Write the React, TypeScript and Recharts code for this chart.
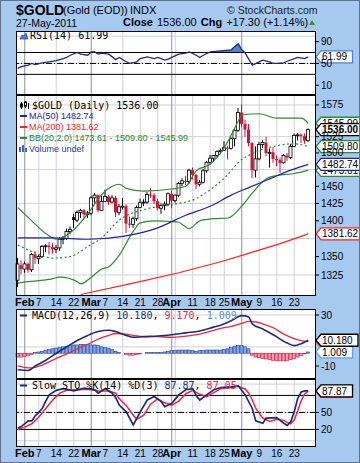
import { Area, Bar, CartesianGrid, ComposedChart, Line, ReferenceLine, XAxis, YAxis } from "recharts";

const FONT = "Arial, 'Liberation Sans', sans-serif";
const MONO = "'DejaVu Sans Mono', monospace";
const BG = "#a6c9f0";
const NAVY = "#1b2d7a";
const MA_BLUE = "#23239b";
const RED = "#f2263d";
const CANDLE_RED = "#d6123a";
const GREEN = "#2e8a2e";
const GRID = "#cfd0da";
const MONTH_GRID = "#8f8f9f";

// trading days, Jan 28 - May 27 2011
const janDays = [28, 31];
const febDays = [1, 2, 3, 4, 7, 8, 9, 10, 11, 14, 15, 16, 17, 18, 22, 23, 24, 25, 28];
const marDays = [1, 2, 3, 4, 7, 8, 9, 10, 11, 14, 15, 16, 17, 18, 21, 22, 23, 24, 25, 28, 29, 30, 31];
const aprDays = [1, 4, 5, 6, 7, 8, 11, 12, 13, 14, 15, 18, 19, 20, 21, 25, 26, 27, 28, 29];
const mayDays = [2, 3, 4, 5, 6, 9, 10, 11, 12, 13, 16, 17, 18, 19, 20, 23, 24, 25, 26, 27];

const days = [
  ...janDays.map((d) => `Jan ${d}`),
  ...febDays.map((d) => `Feb ${d}`),
  ...marDays.map((d) => `Mar ${d}`),
  ...aprDays.map((d) => `Apr ${d}`),
  ...mayDays.map((d) => `May ${d}`),
];

const monthTicks = ["Feb 1", "Mar 1", "Apr 1", "May 2"];
const monthNames = ["Feb", "Mar", "Apr", "May"];
const weekTicks = ["Feb 7", "Feb 14", "Feb 22", "Mar 7", "Mar 14", "Mar 21", "Mar 28", "Apr 11", "Apr 18", "Apr 25", "May 9", "May 16", "May 23"];
const weekGrid = [...weekTicks, "Apr 4"];
const dateTicks = days.filter((d) => monthTicks.includes(d) || weekTicks.includes(d));

// daily candles
const opens = [
  1318, 1338, 1333, 1340, 1332, 1353, 1347, 1350, 1364, 1365, 1363, 1360, 1362, 1374, 1375, 1385, 1405, 1401, 1412, 1415, 1409,
  1411, 1433, 1437, 1415, 1428, 1435, 1427, 1433, 1412, 1420, 1421, 1396, 1395, 1403, 1419, 1426, 1427, 1438, 1437, 1428, 1418, 1422, 1424,
  1439, 1429, 1437, 1454, 1458, 1457, 1474, 1467, 1453, 1456, 1473, 1486, 1492, 1496, 1502, 1504, 1508, 1507, 1522, 1535,
  1563, 1545, 1536, 1515, 1474, 1491, 1513, 1516, 1500, 1501, 1491, 1489, 1485, 1496, 1493, 1510, 1527, 1528, 1526, 1519,
];
const highs = [
  1348, 1345, 1343, 1342, 1355, 1358, 1352, 1366, 1367, 1370, 1369, 1366, 1377, 1378, 1389, 1392, 1410, 1415, 1417, 1417, 1414,
  1436, 1440, 1438, 1436, 1445, 1437, 1437, 1436, 1424, 1433, 1424, 1406, 1406, 1422, 1432, 1431, 1442, 1447, 1440, 1432, 1425, 1428, 1441,
  1443, 1438, 1456, 1462, 1465, 1476, 1478, 1468, 1459, 1476, 1488, 1497, 1497, 1504, 1507, 1518, 1511, 1524, 1538, 1570,
  1576, 1551, 1545, 1517, 1510, 1517, 1520, 1525, 1507, 1509, 1496, 1493, 1498, 1500, 1514, 1530, 1531, 1530, 1530, 1538,
];
const lows = [
  1309, 1326, 1328, 1328, 1329, 1340, 1340, 1348, 1356, 1353, 1354, 1355, 1358, 1367, 1373, 1381, 1390, 1398, 1404, 1402, 1404,
  1408, 1426, 1412, 1414, 1427, 1423, 1425, 1405, 1408, 1416, 1383, 1390, 1390, 1400, 1418, 1421, 1424, 1433, 1424, 1415, 1410, 1415, 1421,
  1418, 1426, 1434, 1450, 1452, 1453, 1460, 1446, 1450, 1454, 1470, 1482, 1487, 1493, 1498, 1503, 1490, 1505, 1510, 1532,
  1540, 1525, 1510, 1462, 1463, 1489, 1508, 1495, 1478, 1485, 1480, 1470, 1484, 1488, 1491, 1509, 1519, 1515, 1514, 1517,
];
const closes = [
  1340, 1333, 1340, 1332, 1353, 1348, 1350, 1364, 1365, 1363, 1360, 1362, 1374, 1375, 1385, 1388, 1401, 1412, 1415, 1409, 1411,
  1433, 1437, 1415, 1428, 1435, 1427, 1433, 1412, 1420, 1421, 1396, 1395, 1403, 1419, 1426, 1427, 1438, 1437, 1428, 1418, 1422, 1424, 1439,
  1429, 1437, 1454, 1458, 1457, 1474, 1467, 1453, 1456, 1473, 1486, 1492, 1496, 1502, 1504, 1508, 1507, 1522, 1535, 1563,
  1545, 1536, 1515, 1474, 1491, 1513, 1516, 1500, 1501, 1491, 1489, 1485, 1496, 1493, 1510, 1527, 1528, 1526, 1518.7, 1536,
];

// overlays as [day index, value]
const ma50Pts: [number, number][] = [[0, 1376], [10, 1376], [20, 1374], [30, 1378], [40, 1390], [48, 1408], [55, 1421], [61, 1437], [66, 1448], [72, 1461], [78, 1474], [83, 1482.74]];
const ma200Pts: [number, number][] = [[18, 1299], [33, 1314], [46, 1328], [58, 1343], [65, 1353], [75, 1368], [83, 1381.62]];
const bbUpperPts: [number, number][] = [[0, 1419], [4, 1400], [8, 1382], [11, 1374], [15, 1383], [20, 1410], [24, 1438], [27, 1450], [29, 1453], [31, 1447], [36, 1443], [44, 1446], [48, 1450], [51, 1473], [55, 1483], [59, 1508], [63, 1549], [64, 1559], [69, 1561], [74, 1554], [81, 1554], [83, 1545.99]];
const bbMidPts: [number, number][] = [[0, 1366], [5, 1355], [10, 1348], [15, 1350], [20, 1364], [24, 1376], [29, 1401], [36, 1416], [45, 1424], [51, 1432], [55, 1445], [59, 1462], [64, 1490], [67, 1499], [74, 1511], [79, 1514], [83, 1509.8]];
const bbLowerPts: [number, number][] = [[0, 1314], [3, 1316], [9, 1319], [12, 1322], [17, 1316], [18, 1313], [21, 1322], [24, 1333], [26, 1336], [29, 1352], [33, 1385], [35, 1397], [39, 1400], [44, 1399], [46, 1398], [49, 1389], [52, 1400], [56, 1403], [60, 1404], [64, 1421], [67, 1440], [71, 1461], [74, 1466], [79, 1469], [83, 1473.61]];

const rsiPts: [number, number][] = [[0, 41], [1, 44], [3, 47], [4, 50], [5, 48], [7, 51], [9, 53], [11, 55], [13, 59], [14, 61], [15, 65], [17, 70], [18, 67], [20, 65], [21, 71], [22, 71], [23, 67], [24, 69], [26, 67], [28, 57], [29, 61], [31, 53], [32, 50], [34, 53], [35, 59], [37, 62], [39, 59], [40, 61], [42, 56], [43, 58], [44, 61], [46, 67], [48, 69], [49, 71], [51, 65], [52, 61], [53, 65], [55, 71], [58, 73], [61, 75], [62, 81], [63, 86], [64, 75], [65, 69], [67, 47], [69, 53], [70, 56], [72, 53], [73, 50], [74, 50], [76, 51], [77, 54], [79, 59], [80, 61], [82, 59], [83, 61.99]];

const macdPts: [number, number][] = [[0, -13], [3, -13.5], [5, -10], [8, -5.5], [11, 0], [14, 5], [17, 10], [20, 14], [23, 17], [26, 18], [28, 17], [31, 14], [33, 12.5], [36, 13], [40, 13.5], [44, 14.5], [48, 16], [52, 17.5], [56, 20.5], [58, 22], [61, 25.5], [64, 29.5], [66, 28.5], [67, 23], [70, 19], [73, 14.5], [77, 8], [79, 6], [81, 7.5], [83, 10.18]];
const signalPts: [number, number][] = [[0, -10], [3, -11.5], [5, -11], [8, -8], [11, -4], [14, -0.5], [17, 3.5], [20, 7], [23, 11], [26, 14], [28, 15.5], [31, 15], [33, 14], [36, 13], [40, 13], [44, 12.5], [48, 13.5], [52, 15], [56, 18], [58, 19.5], [61, 21], [64, 23.5], [66, 25], [68, 24.5], [70, 23], [73, 20], [76, 15], [80, 10.5], [83, 9.17]];
const histValues = [
  -3, -3, -2.5, -2, -1, 0.5, 1, 1.5, 2.5, 3, 3.5, 4, 4.5, 5, 5.5, 6, 6.5, 6.5, 7, 7, 7,
  6.5, 6.5, 6, 5, 4.5, 4, 3, 1.5, 0.5, 0, -1, -1.5, -1.5, -1, -0.5, 0, 0.5, 0.5, 0.5, 0.5, 0.5, 1, 1.5,
  2, 2, 2.5, 2.5, 2.5, 2.5, 2, 1.5, 2, 2, 2.5, 2.5, 2.5, 2.5, 2.5, 3, 3.5, 4.5, 5.5, 6,
  6, 5, 3.5, -1.5, -3, -3.5, -4, -4.5, -5, -5.5, -6, -6, -6, -6, -5, -4.5, -3, -2, -0.5, 1.009,
];

const pctKPts: [number, number][] = [[0, 22], [1, 25], [3, 35], [4, 35], [5, 44], [7, 57], [8, 70], [9, 81], [11, 89], [13, 92], [16, 88], [19, 93], [22, 90], [23, 84], [25, 92], [27, 84], [28, 76], [29, 63], [31, 51], [33, 28], [35, 51], [37, 72], [39, 78], [41, 69], [42, 60], [44, 66], [46, 81], [48, 90], [50, 92], [51, 80], [52, 72], [54, 81], [56, 90], [58, 94], [61, 95], [63, 97], [65, 81], [67, 57], [68, 35], [70, 31], [71, 40], [74, 41], [76, 31], [77, 27], [78, 34], [79, 51], [80, 75], [81, 86], [82, 88], [83, 87.87]];
const pctDPts: [number, number][] = [[0, 20], [2, 24], [4, 30], [6, 42], [8, 57], [10, 72], [12, 84], [14, 89], [17, 90], [20, 91], [23, 88], [26, 88], [28, 84], [29, 74], [31, 62], [33, 45], [34, 38], [36, 45], [38, 65], [40, 74], [42, 67], [44, 63], [46, 70], [48, 83], [50, 89], [52, 82], [54, 78], [56, 85], [58, 92], [61, 94], [63, 96], [65, 91], [66, 84], [67, 72], [68, 57], [70, 40], [72, 34], [74, 38], [76, 36], [77, 32], [78, 30], [79, 37], [80, 53], [81, 71], [82, 83], [83, 87.05]];

// axis ticks (values hidden behind the last-value tags are left out)
const priceGrid = [1325, 1350, 1375, 1400, 1425, 1450, 1475, 1500, 1525, 1550, 1575];
const priceTicks = [1325, 1350, 1400, 1425, 1450, 1500, 1525, 1575];
const rsiTicks = [10, 30, 50, 70, 90];
const macdTicks = [-10, 20, 30];
const stoTicks = [20, 50];

const pick = (pts: [number, number][], i: number) => {
  const p = pts.find((q) => q[0] === i);
  return p ? p[1] : null;
};
const last = (pts: [number, number][]) => pts[pts.length - 1][1];

const priceRows = days.map((day, i) => ({
  day,
  open: opens[i],
  high: highs[i],
  low: lows[i],
  close: closes[i],
  prev: i > 0 ? closes[i - 1] : opens[i],
  range: [lows[i], highs[i]],
  ma50: pick(ma50Pts, i),
  ma200: pick(ma200Pts, i),
  bbUpper: pick(bbUpperPts, i),
  bbMid: pick(bbMidPts, i),
  bbLower: pick(bbLowerPts, i),
}));

const rsiRows = days.map((day, i) => {
  const v = pick(rsiPts, i);
  return { day, rsi: v, rsiFill: v == null ? null : [70, Math.max(70, v)] };
});

const macdRows = days.map((day, i) => ({
  day,
  macd: pick(macdPts, i),
  signal: pick(signalPts, i),
  hist: histValues[i],
}));

const stoRows = days.map((day, i) => ({ day, k: pick(pctKPts, i), d: pick(pctDPts, i) }));

const range = (from: number, to: number, step: number) => {
  const out: number[] = [];
  for (let v = from; v <= to; v += step) out.push(v);
  return out;
};

function Candle(props: any) {
  const { x, y, width, height, payload } = props;
  if (!payload || height == null) return null;
  const { open, high, low, close, prev } = payload;
  const span = Math.log(high) - Math.log(low);
  const at = (p: number) => y + (height * (Math.log(high) - Math.log(p))) / span;
  const color = close < prev ? CANDLE_RED : "#000";
  const top = at(Math.max(open, close));
  const bottom = at(Math.min(open, close));
  const hollow = close >= open;
  const cx = x + width / 2;
  return (
    <g>
      <line x1={cx} x2={cx} y1={y} y2={y + height} stroke={color} strokeWidth={1} />
      <rect
        x={x}
        y={top}
        width={width}
        height={Math.max(bottom - top, 1)}
        fill={hollow ? "#fff" : color}
        stroke={color}
        strokeWidth={hollow ? 0.8 : 0}
      />
    </g>
  );
}

function HistBar(props: any) {
  const { x, y, width, height, payload } = props;
  if (!payload || height == null) return null;
  const up = payload.hist >= 0;
  return (
    <rect
      x={x}
      y={Math.min(y, y + height)}
      width={width}
      height={Math.abs(height)}
      fill={up ? "#7ea8ee" : "#f59cad"}
      stroke={up ? "#22418f" : "#c2143e"}
      strokeWidth={0.6}
    />
  );
}

function Marker(props: any) {
  const { viewBox, text, color, bold } = props;
  if (!viewBox) return null;
  const x = viewBox.x + viewBox.width;
  const y = viewBox.y;
  const w = text.length * 5.5 + 4;
  return (
    <g>
      <path d={`M${x} ${y}L${x + 5} ${y - 6}H${x + 5 + w}V${y + 6}H${x + 5}Z`} fill="#fff" stroke={color} strokeWidth={1.3} />
      <text x={x + 6} y={y + 3.6} fontFamily={FONT} fontSize={10} fontWeight={bold ? 700 : 400} fill="#000">
        {text}
      </text>
    </g>
  );
}

function DateTick(props: any) {
  const { x, y, payload } = props;
  const key: string = payload.value;
  const mi = monthTicks.indexOf(key);
  return (
    <text x={x} y={y + 10} textAnchor="middle" fontFamily={FONT} fontSize={mi >= 0 ? 11 : 10} fontWeight={mi >= 0 ? 700 : 400} fill="#000">
      {mi >= 0 ? monthNames[mi] : key.split(" ")[1]}
    </text>
  );
}

const yTick = { fontSize: 10, fill: "#000", fontFamily: FONT };
const margin = { top: 0, right: 0, bottom: 0, left: 16 };
const pad = { left: 0, right: 6 };

function grids(hValues: number[]) {
  return [
    <CartesianGrid key="g1" stroke={GRID} horizontalValues={hValues} verticalValues={weekGrid} />,
    <CartesianGrid key="g2" stroke={MONTH_GRID} horizontal={false} verticalValues={monthTicks} />,
  ];
}

function RsiChart() {
  return (
    <ComposedChart width={360} height={64} data={rsiRows} margin={margin}>
      {grids(range(0, 100, 10))}
      <XAxis dataKey="day" scale="band" hide padding={pad} ticks={dateTicks} />
      <YAxis orientation="right" width={44} domain={[-7.8, 109.4]} allowDataOverflow ticks={rsiTicks} tick={yTick} tickSize={3} tickMargin={2} tickLine={{ stroke: "#000" }} axisLine={false} />
      <ReferenceLine y={70} stroke="#000" />
      <ReferenceLine y={30} stroke="#000" />
      <ReferenceLine y={50} stroke="#000" strokeDasharray="6 2 1 2" />
      <Area dataKey="rsiFill" type="linear" connectNulls fill="#4d80d8" fillOpacity={1} stroke="none" isAnimationActive={false} />
      <Line dataKey="rsi" type="linear" connectNulls dot={false} stroke={NAVY} strokeWidth={1.3} isAnimationActive={false} />
      <ReferenceLine y={last(rsiPts)} stroke="none" label={<Marker text={last(rsiPts).toFixed(2)} color="#4d80d8" />} />
    </ComposedChart>
  );
}

function PriceChart() {
  return (
    <ComposedChart width={360} height={215} data={priceRows} margin={margin}>
      {grids(priceGrid)}
      <XAxis dataKey="day" scale="band" padding={pad} ticks={dateTicks} interval={0} tick={<DateTick />} tickLine={false} axisLine={false} tickSize={0} tickMargin={0} height={14} />
      <YAxis orientation="right" width={44} scale="log" domain={[1297, 1591]} allowDataOverflow ticks={priceTicks} tick={yTick} tickSize={3} tickMargin={2} tickLine={{ stroke: "#000" }} axisLine={false} />
      <Line dataKey="ma200" connectNulls dot={false} stroke="#ff2020" strokeWidth={1.2} isAnimationActive={false} />
      <Line dataKey="bbUpper" type="monotone" connectNulls dot={false} stroke={GREEN} strokeWidth={1.2} isAnimationActive={false} />
      <Line dataKey="bbLower" type="monotone" connectNulls dot={false} stroke={GREEN} strokeWidth={1.2} isAnimationActive={false} />
      <Line dataKey="bbMid" type="monotone" connectNulls dot={false} stroke={GREEN} strokeWidth={1.2} strokeDasharray="2 2.5" isAnimationActive={false} />
      <Line dataKey="ma50" type="monotone" connectNulls dot={false} stroke={MA_BLUE} strokeWidth={1.2} isAnimationActive={false} />
      <Bar dataKey="range" barSize={3} shape={<Candle />} isAnimationActive={false} />
      <ReferenceLine y={last(bbUpperPts)} stroke="none" label={<Marker text={last(bbUpperPts).toFixed(2)} color={GREEN} />} />
      <ReferenceLine y={last(bbLowerPts)} stroke="none" label={<Marker text={last(bbLowerPts).toFixed(2)} color={GREEN} />} />
      <ReferenceLine y={last(bbMidPts)} stroke="none" label={<Marker text={last(bbMidPts).toFixed(2)} color={GREEN} />} />
      <ReferenceLine y={last(ma50Pts)} stroke="none" label={<Marker text={last(ma50Pts).toFixed(2)} color={MA_BLUE} />} />
      <ReferenceLine y={last(ma200Pts)} stroke="none" label={<Marker text={last(ma200Pts).toFixed(2)} color="#ff2020" />} />
      <ReferenceLine y={closes[closes.length - 1]} stroke="none" label={<Marker text={closes[closes.length - 1].toFixed(2)} color="#000" bold />} />
    </ComposedChart>
  );
}

function MacdChart() {
  return (
    <ComposedChart width={360} height={70} data={macdRows} margin={margin}>
      {grids(range(-20, 30, 5))}
      <XAxis dataKey="day" scale="band" hide padding={pad} ticks={dateTicks} />
      <YAxis orientation="right" width={44} domain={[-20.2, 34.7]} allowDataOverflow ticks={macdTicks} tick={yTick} tickSize={3} tickMargin={2} tickLine={{ stroke: "#000" }} axisLine={false} />
      <Bar dataKey="hist" barSize={3} shape={<HistBar />} isAnimationActive={false} />
      <Line dataKey="signal" type="monotone" connectNulls dot={false} stroke={RED} strokeWidth={1.3} isAnimationActive={false} />
      <Line dataKey="macd" type="monotone" connectNulls dot={false} stroke={NAVY} strokeWidth={1.6} isAnimationActive={false} />
      <ReferenceLine y={last(signalPts)} stroke="none" label={<Marker text={last(signalPts).toFixed(3)} color={RED} />} />
      <ReferenceLine y={histValues[histValues.length - 1]} stroke="none" label={<Marker text={histValues[histValues.length - 1].toFixed(3)} color="#6b9ae8" />} />
      <ReferenceLine y={last(macdPts)} stroke="none" label={<Marker text={last(macdPts).toFixed(3)} color="#000" />} />
    </ComposedChart>
  );
}

function StoChart() {
  return (
    <ComposedChart width={360} height={82} data={stoRows} margin={margin}>
      {grids(range(0, 100, 10))}
      <XAxis dataKey="day" scale="band" padding={pad} ticks={dateTicks} interval={0} tick={<DateTick />} tickLine={false} axisLine={false} tickSize={0} tickMargin={0} height={14} />
      <YAxis orientation="right" width={44} domain={[-11, 109]} allowDataOverflow ticks={stoTicks} tick={yTick} tickSize={3} tickMargin={2} tickLine={{ stroke: "#000" }} axisLine={false} />
      <ReferenceLine y={80} stroke="#000" />
      <ReferenceLine y={20} stroke="#000" />
      <ReferenceLine y={50} stroke="#000" strokeDasharray="6 2 1 2" />
      <Line dataKey="d" type="linear" connectNulls dot={false} stroke={RED} strokeWidth={1.5} isAnimationActive={false} />
      <Line dataKey="k" type="linear" connectNulls dot={false} stroke={NAVY} strokeWidth={1.7} isAnimationActive={false} />
      <ReferenceLine y={last(pctDPts)} stroke="none" label={<Marker text={last(pctDPts).toFixed(2)} color={RED} />} />
      <ReferenceLine y={last(pctKPts)} stroke="none" label={<Marker text={last(pctKPts).toFixed(2)} color="#000" />} />
    </ComposedChart>
  );
}

const abs = { position: "absolute" as const, left: 0 };

export default function App() {
  return (
    <div style={{ position: "absolute", left: 0, top: 0, width: 360, height: 463, background: BG, overflow: "hidden" }}>
      <svg width={360} height={463} style={{ ...abs, top: 0 }}>
        <rect x={16} y={31} width={300} height={64} fill="#fff" />
        <rect x={16} y={95} width={300} height={201} fill="#fff" />
        <rect x={16} y={309} width={300} height={138} fill="#fff" />
      </svg>
      <div style={{ ...abs, top: 31 }}>
        <RsiChart />
      </div>
      <div style={{ ...abs, top: 95 }}>
        <PriceChart />
      </div>
      <div style={{ ...abs, top: 309 }}>
        <MacdChart />
      </div>
      <div style={{ ...abs, top: 379 }}>
        <StoChart />
      </div>
      <svg width={360} height={463} style={{ ...abs, top: 0, pointerEvents: "none" }}>
        <rect x={0.5} y={0.5} width={359} height={462} fill="none" stroke="#60728f" />
        <g fill="none" stroke="#000">
          <rect x={16.5} y={31.5} width={299} height={63} />
          <rect x={16.5} y={95.5} width={299} height={200} />
          <rect x={16.5} y={309.5} width={299} height={69} />
          <rect x={16.5} y={379.5} width={299} height={67} />
        </g>

        <text x={16} y={15} fontFamily={FONT} fontSize={14} fontWeight={700}>$GOLD</text>
        <text x={63} y={14} fontFamily={FONT} fontSize={11}>(Gold (EOD))</text>
        <text x={130} y={14} fontFamily={FONT} fontSize={11}>INDX</text>
        <text x={227} y={14} fontFamily={FONT} fontSize={10.5} fill="#222">© StockCharts.com</text>
        <text x={16} y={27} fontFamily={FONT} fontSize={10.5}>27-May-2011</text>
        <text x={123} y={26} fontFamily={FONT} fontSize={11}>
          <tspan fontWeight={700}>Close</tspan>
          <tspan dx={4}>1536.00</tspan>
          <tspan dx={4} fontWeight={700}>Chg</tspan>
          <tspan dx={4}>+17.30 (+1.14%)</tspan>
        </text>
        <path d="M309 25L315 25L312 20Z" fill="#2a9a2a" />

        <path d="M20 39L22 35L24 36L26 33L28 39Z" fill="#4d80d8" stroke={NAVY} strokeWidth={0.6} />
        <text x={30} y={39} fontFamily={MONO} fontSize={10}>RSI(14) 61.99</text>

        <g stroke="#000" strokeWidth={1}>
          <line x1={21.5} x2={21.5} y1={102} y2={109} />
          <rect x={20.5} y={104} width={2} height={3} fill="#000" />
          <line x1={25.5} x2={25.5} y1={101} y2={108} />
          <rect x={24.5} y={102} width={2} height={4} fill="#fff" />
          <line x1={28.5} x2={28.5} y1={103} y2={109} />
        </g>
        <text x={32} y={109} fontFamily={MONO} fontSize={10}>$GOLD (Daily) 1536.00</text>
        <line x1={20} x2={27} y1={116} y2={116} stroke={MA_BLUE} strokeWidth={2} />
        <text x={29} y={119} fontFamily={FONT} fontSize={9} fill={MA_BLUE}>MA(50) 1482.74</text>
        <line x1={20} x2={27} y1={127} y2={127} stroke="#ff2020" strokeWidth={2} />
        <text x={29} y={130} fontFamily={FONT} fontSize={9} fill="#ff2020">MA(200) 1381.62</text>
        <line x1={20} x2={27} y1={138} y2={138} stroke={GREEN} strokeWidth={2} />
        <text x={29} y={141} fontFamily={FONT} fontSize={9} fill={GREEN}>BB(20,2.0) 1473.61 - 1509.80 - 1545.99</text>
        <g fill="#3a6cc8">
          <rect x={19} y={147} width={2} height={5} />
          <rect x={22} y={145} width={2} height={7} />
          <rect x={25} y={148} width={2} height={4} />
        </g>
        <text x={29} y={152} fontFamily={FONT} fontSize={9} fill="#1f3f93">Volume undef</text>

        <line x1={20} x2={27} y1={315.5} y2={315.5} stroke={NAVY} strokeWidth={2} />
        <text x={32} y={319} fontFamily={MONO} fontSize={10}>
          MACD(12,26,9) <tspan fill={NAVY}>10.180</tspan>, <tspan fill={RED}>9.170</tspan>, <tspan fill="#5b8de0">1.009</tspan>
        </text>
        <line x1={20} x2={27} y1={385.5} y2={385.5} stroke={NAVY} strokeWidth={2} />
        <text x={32} y={389} fontFamily={MONO} fontSize={10}>
          Slow STO %K(14) %D(3) <tspan fill={NAVY}>87.87</tspan>, <tspan fill={RED}>87.05</tspan>
        </text>
      </svg>
    </div>
  );
}
